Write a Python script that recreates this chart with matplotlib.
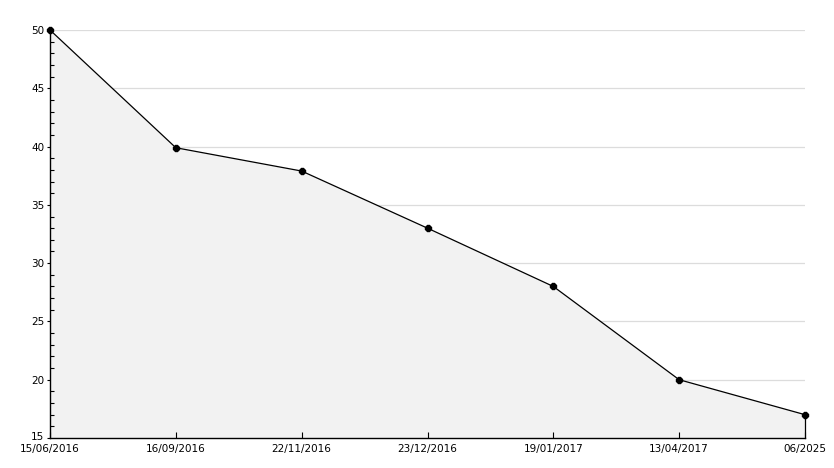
import matplotlib
matplotlib.use("Agg")
import matplotlib.pyplot as plt
import matplotlib.transforms as mtransforms
from matplotlib.ticker import MultipleLocator

dates = ["15/06/2016", "16/09/2016", "22/11/2016", "23/12/2016",
         "19/01/2017", "13/04/2017", "06/2025"]
values = [50, 39.9, 37.9, 33, 28, 20, 17]
yticks = [15, 20, 25, 30, 35, 40, 45, 50]

fig = plt.figure(figsize=(8.34, 4.68), dpi=100)
ax = fig.add_axes([50/834, 30/468, (805-50)/834, (438-30)/468])

x = list(range(len(dates)))
for yv in yticks[1:]:
    ax.axhline(yv, color="#dcdcdc", linewidth=0.9, zorder=0)
ax.fill_between(x, values, 15, color="#f2f2f2", zorder=1, linewidth=0)
ax.plot(x, values, color="black", linewidth=0.9, zorder=3, clip_on=False)
ax.plot(x, values, linestyle="none", marker="8", markersize=4.5,
        color="black", zorder=4, clip_on=False)
ax.plot([x[-1], x[-1]], [15, values[-1]], color="black", linewidth=0.9,
        zorder=3, clip_on=False)

ax.set_xlim(0, len(dates) - 1)
ax.set_ylim(15, 50)
ax.set_yticks(yticks)
ax.yaxis.set_minor_locator(MultipleLocator(1))

ax.set_xticks(x)
ax.set_xticklabels(dates)
for s in ["top", "right"]:
    ax.spines[s].set_visible(False)
for s in ["left", "bottom"]:
    ax.spines[s].set_linewidth(1.0)
    ax.spines[s].set_zorder(5)

ax.tick_params(axis="y", which="major", direction="out", length=2,
               labelsize=7.5, pad=2)
ax.tick_params(axis="y", which="minor", direction="in", length=3, width=0.8)
ax.tick_params(axis="x", which="major", direction="in", length=4,
               labelsize=7.5, pad=4)

# nudge the lowest y label up a little so it clears the first date label
lbl = ax.get_yticklabels()[0]
lbl.set_transform(lbl.get_transform() +
                  mtransforms.ScaledTranslation(0, 2/100, fig.dpi_scale_trans))

fig.savefig("out.png", dpi=100)
